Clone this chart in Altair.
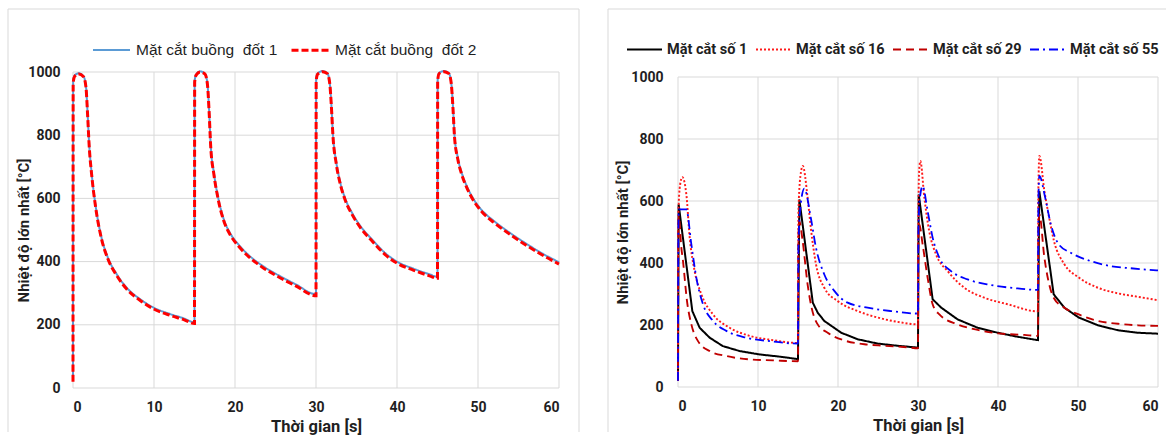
import altair as alt
import pandas as pd

# ---------------- shared axis content ----------------
X_TICKS = [0, 10, 20, 30, 40, 50, 60]
Y_TICKS = [0, 200, 400, 600, 800, 1000]
X_TITLE = "Thời gian [s]"
Y_TITLE = "Nhiệt độ lớn nhất [°C]"

# ---------------- left panel data ----------------
LEFT_NAMES = ["Mặt cắt buồng\u00a0 đốt 1", "Mặt cắt buồng\u00a0 đốt 2"]
LEFT_T = [0, 0.02, 0.2, 0.7, 1.3, 1.6, 1.8, 2.0, 2.3, 2.8, 3.5, 4.3, 5.4, 6.6, 8.3, 9.9, 12.0, 13.6, 15.0,
          15.02, 15.2, 15.7, 16.3, 16.6, 16.8, 17.0, 17.4, 17.9, 18.6, 19.4, 20.4, 21.5, 23.5, 25.0, 27.5, 30.0,
          30.02, 30.2, 30.8, 31.4, 31.7, 31.9, 32.1, 32.5, 33.0, 33.6, 34.5, 35.5, 37.0, 38.5, 40.0, 42.0, 44.0, 45.0,
          45.02, 45.2, 45.8, 46.4, 46.7, 46.9, 47.1, 47.5, 48.0, 48.6, 49.4, 50.5, 52.0, 54.0, 56.0, 58.0, 60.0]
LEFT_V1 = [23, 971, 989, 996, 986, 955, 870, 770, 680, 575, 478, 413, 360, 318, 281, 255, 234, 221, 208,
           972, 992, 1002, 994, 962, 880, 770, 680, 605, 535, 490, 455, 425, 385, 362, 328, 297,
           975, 995, 1003, 996, 965, 895, 800, 715, 650, 600, 552, 512, 468, 428, 400, 378, 360, 352,
           975, 997, 1003, 996, 965, 895, 800, 730, 680, 640, 600, 562, 528, 490, 456, 425, 398]
LEFT_V2 = [20, 965, 986, 994, 985, 952, 866, 765, 676, 571, 474, 409, 356, 314, 277, 251, 230, 217, 204,
           968, 990, 1000, 993, 960, 876, 765, 675, 600, 530, 485, 450, 420, 380, 357, 323, 292,
           972, 993, 1001, 995, 963, 890, 795, 710, 645, 595, 547, 507, 463, 423, 395, 373, 355, 347,
           972, 995, 1001, 995, 963, 890, 795, 725, 675, 635, 595, 557, 523, 485, 451, 420, 392]
LEFT_COLORS = ["#5B9BD5", "#FF0000"]
LEFT_DASHES = [[1, 0], [7, 3]]
LEFT_WIDTHS = [2, 3]

# ---------------- right panel data ----------------
RIGHT_NAMES = ["Mặt cắt số 1", "Mặt cắt số 16", "Mặt cắt số 29", "Mặt cắt số 55"]
R1_T = [0, 0.08, 1.79, 2.71, 3.96, 5.6, 7.7, 10.2, 12.7, 15.0,
        15.17, 16.85, 17.46, 18.29, 20.4, 22.46, 24.96, 27.46, 30.0,
        30.09, 31.83, 32.9, 34.96, 37.46, 39.96, 42.46, 45.0,
        45.16, 46.96, 48.29, 50.1, 52.5, 55.0, 57.5, 60.0]
R1_V = [20, 589, 245, 191, 159, 132, 116, 105, 98, 90,
        605, 272, 240, 213, 175, 154, 140, 133, 127,
        621, 283, 256, 218, 191, 175, 162, 151,
        632, 299, 256, 224, 199, 183, 175, 172]
R16_T = [0, 0.05, 0.25, 0.54, 1.04, 1.46, 2.08, 2.92, 4.38, 6.46, 8.96, 11.9, 15.0,
         15.05, 15.3, 15.6, 16.2, 16.6, 17.25, 18.29, 19.96, 22.46, 24.96, 27.46, 30.0,
         30.05, 30.15, 30.29, 30.79, 31.4, 32.25, 33.7, 35.79, 38.29, 41.2, 45.0,
         45.03, 45.17, 45.8, 46.4, 47.0, 48.3, 50.1, 52.5, 55.0, 57.5, 60.0]
R16_V = [20, 560, 650, 677, 622, 482, 374, 299, 234, 191, 165, 151, 142,
         560, 680, 713, 611, 514, 396, 320, 277, 245, 224, 210, 202,
         560, 700, 729, 611, 503, 428, 374, 320, 288, 267, 244,
         600, 745, 632, 546, 471, 396, 353, 320, 302, 291, 280]
R29_T = [0, 0.05, 0.1, 0.42, 0.625, 1.125, 1.67, 2.5, 3.96, 6.04, 8.96, 11.9, 15.0,
         15.05, 15.15, 15.58, 16.2, 16.7, 17.46, 18.71, 20.8, 23.3, 25.8, 28.7, 30.0,
         30.05, 30.15, 30.58, 31.2, 31.83, 32.67, 34.96, 37.46, 39.96, 43.3, 45.0,
         45.05, 45.17, 45.8, 46.4, 46.96, 48.29, 50.1, 52.5, 55.0, 57.5, 60.0]
R29_V = [20, 520, 550, 449, 406, 277, 202, 148, 116, 100, 89, 86, 83,
         480, 535, 471, 331, 256, 202, 175, 150, 138, 133, 128, 125,
         480, 525, 460, 353, 267, 234, 202, 184, 173, 168, 165,
         500, 557, 417, 331, 288, 256, 234, 213, 204, 199, 197]
R55_T = [0, 0.05, 0.1, 1.04, 1.67, 2.29, 3.125, 4.38, 6.04, 8.54, 11.46, 15.0,
         15.05, 15.3, 15.79, 16.6, 17.25, 18.29, 19.54, 21.2, 23.7, 26.6, 30.0,
         30.05, 30.2, 30.58, 31.2, 31.83, 32.67, 34.13, 36.2, 39.1, 42.46, 45.0,
         45.05, 45.17, 45.9, 46.6, 47.6, 49.1, 51.6, 54.1, 56.6, 60.0]
R55_V = [20, 500, 573, 573, 460, 353, 267, 213, 181, 159, 148, 140,
         450, 580, 640, 546, 449, 363, 310, 272, 256, 245, 237,
         500, 600, 648, 568, 482, 417, 374, 347, 329, 318, 313,
         600, 681, 611, 525, 460, 433, 406, 390, 383, 376]
RIGHT_COLORS = ["#000000", "#FF1A1A", "#C00000", "#0000FF"]
RIGHT_DASHES = [[1, 0], [2, 2], [8, 5], [9, 4, 2, 4]]
RIGHT_WIDTHS = [2, 1.8, 2.6, 2.4]

GRID = "#D9D9D9"
BORDER = "#D9D9D9"
FONT = "Roboto"
TXT = "#1F1F1F"


def make_df(series):
    rows = []
    for name, ts, vs in series:
        for i, (t, v) in enumerate(zip(ts, vs)):
            rows.append({"s": name, "t": t, "v": v, "i": i})
    return pd.DataFrame(rows)


left_df = make_df([(LEFT_NAMES[0], LEFT_T, LEFT_V1), (LEFT_NAMES[1], LEFT_T, LEFT_V2)])
right_df = make_df([(RIGHT_NAMES[0], R1_T, R1_V), (RIGHT_NAMES[1], R16_T, R16_V),
                    (RIGHT_NAMES[2], R29_T, R29_V), (RIGHT_NAMES[3], R55_T, R55_V)])


def panel(df, names, colors, dashes, widths, w, h, yrange, ylab_pad, ytitle_pad,
          legend, border_box, linear_first=False, right_side=True):
    xs = alt.Scale(domain=[0, 60], nice=False, zero=False)
    ys = alt.Scale(domain=[0, 1000], nice=False, range=yrange)
    xaxis = alt.Axis(values=X_TICKS, title=X_TITLE, grid=False, domain=False, ticks=False,
                     labelPadding=12, titlePadding=4, titleFontSize=16.5, format="d")
    yaxis = alt.Axis(values=Y_TICKS, title=Y_TITLE, grid=False, domain=False, ticks=False,
                     labelPadding=ylab_pad, titlePadding=ytitle_pad, format="d")
    one = alt.Data(values=[{"a": 1}])
    bl, bt, br, bb = border_box
    layers = []
    layers.append(alt.Chart(one).mark_rule(color=BORDER, strokeWidth=1).encode(
        x=alt.value(bl), x2=alt.value(br), y=alt.value(bt)))
    layers.append(alt.Chart(one).mark_rule(color=BORDER, strokeWidth=1).encode(
        x=alt.value(bl), y=alt.value(bt), y2=alt.value(bb)))
    if right_side:
        layers.append(alt.Chart(one).mark_rule(color=BORDER, strokeWidth=1).encode(
            x=alt.value(br), y=alt.value(bt), y2=alt.value(bb)))
    layers.append(alt.Chart(pd.DataFrame({"t": X_TICKS})).mark_rule(color=GRID, strokeWidth=1).encode(
        x=alt.X("t:Q", scale=xs, axis=xaxis), y=alt.datum(0), y2=alt.datum(1000)))
    layers.append(alt.Chart(pd.DataFrame({"v": Y_TICKS})).mark_rule(color=GRID, strokeWidth=1).encode(
        y=alt.Y("v:Q", scale=ys, axis=yaxis), x=alt.datum(0), x2=alt.datum(60)))
    enc = dict(
        x=alt.X("t:Q", scale=xs, axis=xaxis),
        y=alt.Y("v:Q", scale=ys, axis=yaxis),
        color=alt.Color("s:N", scale=alt.Scale(domain=names, range=colors), legend=legend),
        strokeDash=alt.StrokeDash("s:N", scale=alt.Scale(domain=names, range=dashes), legend=legend),
        strokeWidth=alt.StrokeWidth("s:N", scale=alt.Scale(domain=names, range=widths), legend=legend),
        order=alt.Order("i:Q"),
    )
    if linear_first:
        layers.append(alt.Chart(df).transform_filter(alt.datum.s == names[0]).mark_line(
            interpolate="linear", strokeCap="butt").encode(**enc))
        layers.append(alt.Chart(df).transform_filter(alt.datum.s != names[0]).mark_line(
            interpolate="monotone", strokeCap="butt").encode(**enc))
    else:
        layers.append(alt.Chart(df).mark_line(interpolate="monotone", strokeCap="butt").encode(**enc))
    return alt.layer(*layers).properties(width=w, height=h)


left_legend = alt.Legend(orient="none", legendX=19, legendY=-42, direction="horizontal", title=None,
                         symbolType="stroke", symbolSize=1369, labelFont="Liberation Sans",
                         labelFontSize=15.5, labelFontWeight="normal", labelColor=TXT,
                         columnPadding=7, labelOffset=5, labelLimit=300, padding=0)
right_legend = alt.Legend(orient="none", legendX=-52, legendY=-41, direction="horizontal", title=None,
                          symbolType="stroke", symbolSize=1225, labelFont=FONT,
                          labelFontSize=14.5, labelFontWeight="bold", labelColor=TXT,
                          columnPadding=4, labelOffset=4, labelLimit=300, padding=0)

left = panel(left_df, LEFT_NAMES, LEFT_COLORS, LEFT_DASHES, LEFT_WIDTHS, 486, 316, [316, 0],
             13, -4, left_legend, (-65, -63, 506, 360))
right = panel(right_df, RIGHT_NAMES, RIGHT_COLORS, RIGHT_DASHES, RIGHT_WIDTHS, 480, 315, [315, 5],
              15, 0, right_legend, (-70, -63, 488, 360), linear_first=True, right_side=False)

chart = alt.hconcat(left, right, spacing=119, bounds="flush",
                    padding={"left": 7, "top": 8, "right": 0, "bottom": 0},
                    background="white").resolve_scale(
    color="independent", strokeDash="independent", strokeWidth="independent",
    x="independent", y="independent").resolve_legend(
    color="independent", strokeDash="independent", strokeWidth="independent").configure_view(
    stroke=None).configure_axis(
    labelFont=FONT, labelFontSize=14, labelFontWeight="bold", labelColor=TXT,
    titleFont=FONT, titleFontSize=15, titleFontWeight="bold", titleColor=TXT)

chart.save("out.html", embed_options={"renderer": "svg", "actions": False})
